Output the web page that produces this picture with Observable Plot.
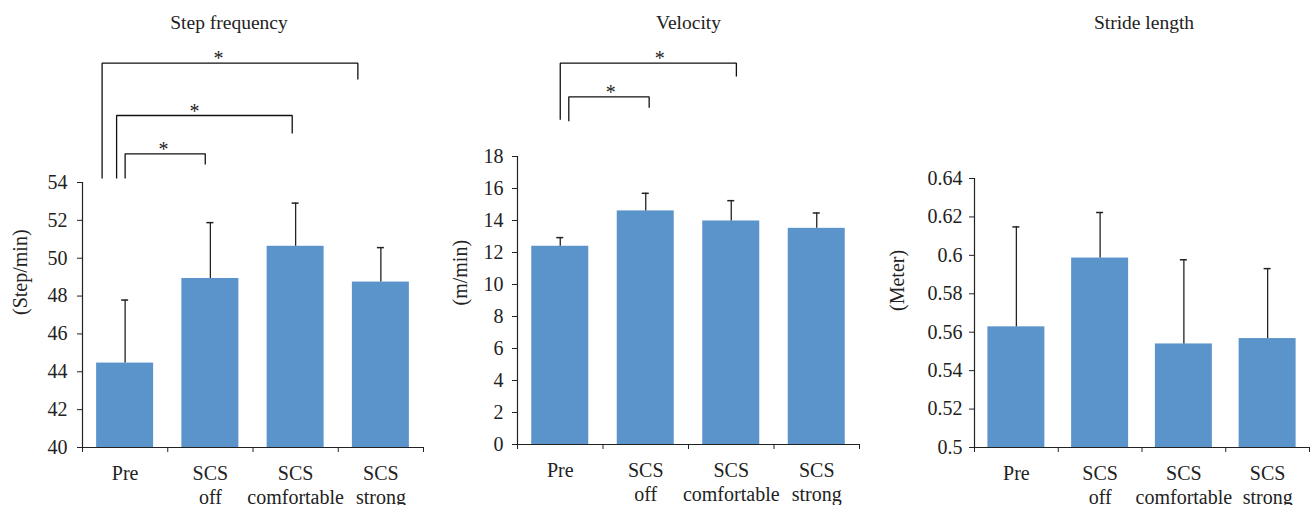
<!DOCTYPE html>
<html>
<head>
<meta charset="utf-8">
<script src="https://cdn.jsdelivr.net/npm/d3@7"></script>
<script src="https://cdn.jsdelivr.net/npm/@observablehq/plot@0.6"></script>
<style>
  html, body { margin: 0; padding: 0; background: #fff; }
  #row { display: flex; width: 1312px; height: 505px; }
  #row svg { display: block; flex: none; }
  #row svg, #row svg text { font-family: "Liberation Serif", "DejaVu Serif", serif !important; }
</style>
</head>
<body>
<div id="row"></div>
<script>
// ---------- data ----------
const categories = ["Pre", "SCS\noff", "SCS\ncomfortable", "SCS\nstrong"];

const titles = ["Step frequency", "Velocity", "Stride length"];
const yLabels = ["(Step/min)", "(m/min)", "(Meter)"];

const stepFrequency   = [44.46, 48.93, 50.63, 48.74];
const stepFrequencySD = [3.33, 2.95, 2.28, 1.82];

const velocity   = [12.39, 14.60, 13.97, 13.51];
const velocitySD = [0.54, 1.10, 1.27, 0.96];

const strideLength   = [0.5628, 0.5986, 0.5539, 0.5567];
const strideLengthSD = [0.0520, 0.0237, 0.0438, 0.0364];

const stepTicks     = [40, 42, 44, 46, 48, 50, 52, 54];
const velocityTicks = [0, 2, 4, 6, 8, 10, 12, 14, 16, 18];
const strideTicks   = [0.5, 0.52, 0.54, 0.56, 0.58, 0.6, 0.62, 0.64];

// significant pairs (category indices) and their mark
const stepPairs     = [[0, 1], [0, 2], [0, 3]];
const velocityPairs = [[0, 1], [0, 2]];
const sigLabel = "*";

// ---------- layout (positions / styles only) ----------
const BAR = "#5B94CB";
const INK = "#222";
const FONT = "Liberation Serif";

// bracket geometry per pair: rise of the bar line above the frame (px),
// rise of the left / right leg ends (px), x offsets from the bar centres (bands), star x
const stepBracketGeom = [
  {top: 28.7, legL: 4, legR: 18, offL: 0.00, offR: -0.06, star: 0.95, starDy: 3},
  {top: 67,   legL: 4, legR: 49, offL: -0.10, offR: -0.04, star: 1.314, starDy: -2},
  {top: 119.3, legL: 4, legR: 103, offL: -0.27, offR: -0.27, star: 1.595, starDy: 1}
];
const velocityBracketGeom = [
  {top: 59.7, legL: 35.3, legR: 48.7, offL: 0.10, offR: 0.04, star: 1.09, starDy: 2},
  {top: 93.3, legL: 36.7, legR: 80, offL: 0.00, offR: 0.06, star: 1.663, starDy: 1}
];

const panels = [
  {title: titles[0], yLabel: yLabels[0], means: stepFrequency, sds: stepFrequencySD, ticks: stepTicks,
   width: 437, marginLeft: 82, marginRight: 14, marginTop: 182, marginBottom: 58,
   tickPadding: 10, labelDx: -62, labelDy: 0, titleDx: -24, pairs: stepPairs, geom: stepBracketGeom},
  {title: titles[1], yLabel: yLabels[1], means: velocity, sds: velocitySD, ticks: velocityTicks,
   width: 437, marginLeft: 80, marginRight: 15, marginTop: 156, marginBottom: 61,
   tickPadding: 9, labelDx: -57, labelDy: 5, titleDx: 0, pairs: velocityPairs, geom: velocityBracketGeom},
  {title: titles[2], yLabel: yLabels[2], means: strideLength, sds: strideLengthSD, ticks: strideTicks,
   width: 438, marginLeft: 100, marginRight: 3, marginTop: 178, marginBottom: 58,
   tickPadding: 7, labelDx: -77, labelDy: -2, titleDx: 2, pairs: [], geom: []}
];

const HEIGHT = 505;

function makePanel(p) {
  const n = categories.length;
  const ymin = p.ticks[0], ymax = p.ticks[p.ticks.length - 1];
  const pxPerUnit = (HEIGHT - p.marginTop - p.marginBottom) / (ymax - ymin);
  const above = (px) => ymax + px / pxPerUnit;
  const step = (p.width - p.marginLeft - p.marginRight) / n;
  const inset = (step - 57) / 2;

  const rows = categories.map((c, i) => ({i, c, mean: p.means[i], sd: p.sds[i]}));

  const bracketPts = [];
  const stars = [];
  p.pairs.forEach(([a, b], k) => {
    const g = p.geom[k];
    const xl = a + 0.5 + g.offL, xr = b + 0.5 + g.offR;
    bracketPts.push(
      {k, x: xl, y: above(g.legL)},
      {k, x: xl, y: above(g.top)},
      {k, x: xr, y: above(g.top)},
      {k, x: xr, y: above(g.legR)}
    );
    stars.push({x: g.star, y: above(g.top)});
  });

  return Plot.plot({
    width: p.width,
    height: HEIGHT,
    marginLeft: p.marginLeft,
    marginRight: p.marginRight,
    marginTop: p.marginTop,
    marginBottom: p.marginBottom,
    style: {fontFamily: FONT, color: INK, background: "#fff", overflow: "visible"},
    x: {domain: [0, n]},
    y: {domain: [ymin, ymax]},
    marks: [
      Plot.rectY(rows, {x1: d => d.i, x2: d => d.i + 1, y1: ymin, y2: "mean",
        insetLeft: inset, insetRight: inset, fill: BAR}),
      Plot.ruleX(rows, {x: d => d.i + 0.5, y1: "mean", y2: d => d.mean + d.sd,
        stroke: INK, strokeWidth: 1.3}),
      Plot.ruleY(rows, {y: d => d.mean + d.sd, x1: d => d.i + 0.5, x2: d => d.i + 0.5,
        insetLeft: -3.5, insetRight: -3.5, stroke: INK, strokeWidth: 1.5}),
      Plot.ruleX([0], {stroke: INK, strokeWidth: 1.2}),
      Plot.ruleY([ymin], {stroke: INK, strokeWidth: 1.2}),
      Plot.axisY({ticks: p.ticks, tickSize: 5, tickPadding: p.tickPadding, fontSize: 20, fontFamily: FONT,
        tickFormat: d => String(d), label: null, stroke: INK}),
      Plot.axisX({ticks: d3.range(n + 1), tickSize: 5, tickFormat: () => "", label: null, stroke: INK}),
      Plot.axisX({ticks: d3.range(n).map(i => i + 0.5), tickSize: 0, tickPadding: 15, fontSize: 20,
        fontFamily: FONT, lineHeight: 1.2, tickFormat: d => categories[Math.floor(d)], label: null}),
      Plot.text([p.yLabel], {text: d => d, frameAnchor: "left", rotate: -90,
        dx: p.labelDx, dy: p.labelDy, fontSize: 20, fontFamily: FONT, fill: INK}),
      Plot.text([p.title], {text: d => d, frameAnchor: "top", lineAnchor: "bottom",
        dx: p.titleDx, dy: 28 - p.marginTop, fontSize: 19.5, fontFamily: FONT, fill: INK}),
      Plot.line(bracketPts, {x: "x", y: "y", z: "k", stroke: "#111", strokeWidth: 1.3,
        strokeLinejoin: "miter", strokeLinecap: "butt"}),
      Plot.text(stars, {x: "x", y: "y", text: () => sigLabel, dy: 2, lineAnchor: "bottom",
        fontSize: 20, fontFamily: FONT, fill: INK})
    ]
  });
}

const row = document.getElementById("row");
for (const p of panels) row.appendChild(makePanel(p));
</script>
</body>
</html>
